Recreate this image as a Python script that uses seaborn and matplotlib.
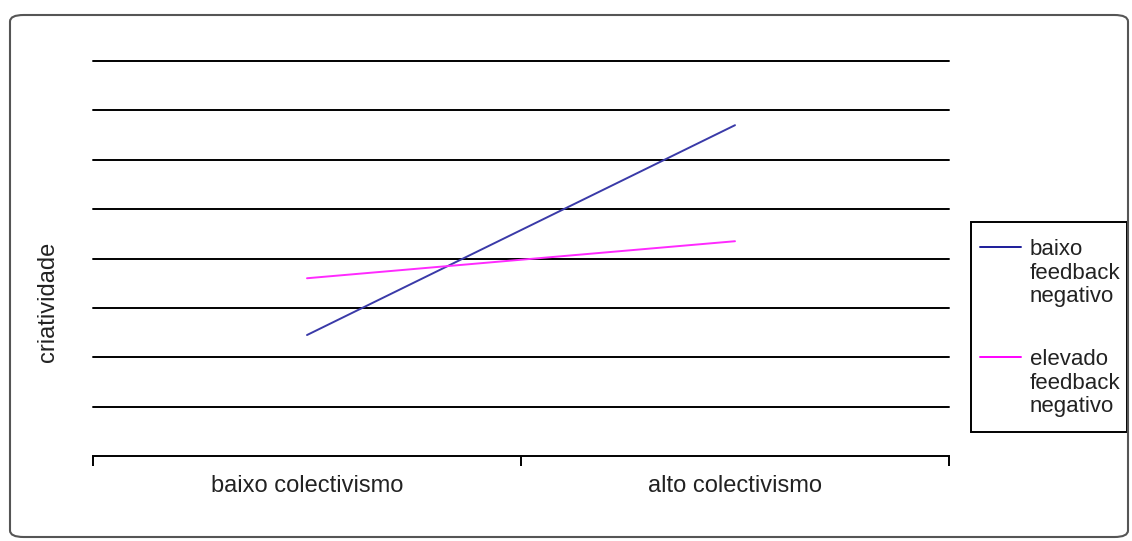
import matplotlib
matplotlib.use("Agg")
import matplotlib.pyplot as plt
from matplotlib.patches import FancyBboxPatch, Rectangle
from matplotlib.lines import Line2D
from matplotlib.legend_handler import HandlerLine2D
import pandas as pd
import seaborn as sns

# Data
categorias = ["baixo colectivismo", "alto colectivismo"]
series = ["baixo\nfeedback\nnegativo", "elevado\nfeedback\nnegativo"]
baixo_feedback = [2.45, 6.70]
elevado_feedback = [3.60, 4.35]
cores = ["#3A3AA8", "#FF2AFF"]
cores_legenda = ["#1C1C9A", "#FF00FF"]

FS_AXIS = 17
FS_LEG = 16
LINESPACING = 1.17

sns.set_theme(style="white")
plt.rcParams["font.family"] = ["Liberation Sans", "DejaVu Sans"]

df = pd.DataFrame({
    "pos": list(range(len(categorias))) * 2,
    "criatividade": baixo_feedback + elevado_feedback,
    "serie": [series[0]] * len(categorias) + [series[1]] * len(categorias),
})

W, H = 1132, 541
fig = plt.figure(figsize=(W / 100, H / 100), dpi=100)
ax = fig.add_axes([93 / W, 1 - 456 / H, (949 - 93) / W, (456 - 61) / H])

sns.lineplot(data=df, x="pos", y="criatividade", hue="serie",
             palette=dict(zip(series, cores)), linewidth=1.4, ax=ax,
             legend=False)

ax.set_xlim(-0.5, len(categorias) - 0.5)
ax.set_ylim(0, 8)

# horizontal gridlines
for v in range(1, 9):
    ax.axhline(v, color="black", linewidth=1.4, zorder=0, clip_on=False)

for s in ["top", "right", "left"]:
    ax.spines[s].set_visible(False)
ax.spines["bottom"].set_color("black")
ax.spines["bottom"].set_linewidth(1.4)

ax.set_yticks([])
ax.set_xticks(range(len(categorias)))
ax.set_xticklabels(categorias, fontsize=FS_AXIS, color="#222222")
ax.tick_params(axis="x", which="major", length=0, pad=14)
ax.set_xticks([-0.5, 0.5, 1.5], minor=True)
ax.tick_params(axis="x", which="minor", length=7, width=1.4, color="black",
               direction="out", bottom=True)
ax.set_xlabel("")
ax.set_ylabel("criatividade", fontsize=FS_AXIS, color="#222222")
ax.yaxis.set_label_coords(-0.040, 0.39)


class TopLineHandler(HandlerLine2D):
    """Legend line aligned with the first row of a multi-line label."""

    def create_artists(self, legend, orig_handle, xdescent, ydescent,
                       width, height, fontsize, trans):
        artists = super().create_artists(legend, orig_handle, xdescent,
                                         ydescent, width, height, fontsize,
                                         trans)
        shift = fontsize * LINESPACING
        for a in artists:
            a.set_ydata([y + shift for y in a.get_ydata()])
        return artists


# legend box (drawn separately so its padding can differ per side)
fig.patches.append(Rectangle((971 / W, 1 - 432 / H), (1127 - 971) / W,
                             (432 - 222) / H, transform=fig.transFigure,
                             facecolor="white", edgecolor="black",
                             linewidth=1.4, zorder=1))

handles = [Line2D([], [], color=c, linewidth=1.4) for c in cores_legenda]
leg = fig.legend(handles, series, loc="upper left",
                 bbox_to_anchor=(980 / W, 1 - 239 / H),
                 frameon=False, fontsize=FS_LEG,
                 handlelength=1.85, handletextpad=0.4, labelspacing=1.87,
                 borderpad=0, borderaxespad=0,
                 handler_map={Line2D: TopLineHandler()})
leg.set_zorder(2)
for t in leg.get_texts():
    t.set_color("#222222")
    t.set_linespacing(LINESPACING)

# chart area frame
frame = FancyBboxPatch((10 / W, 1 - 537 / H), (1128 - 10) / W,
                       (537 - 15) / H,
                       boxstyle="round,pad=0,rounding_size=0.012",
                       transform=fig.transFigure, facecolor="none",
                       edgecolor="#555555", linewidth=1.5)
fig.patches.append(frame)

fig.savefig("out.png", dpi=100)
